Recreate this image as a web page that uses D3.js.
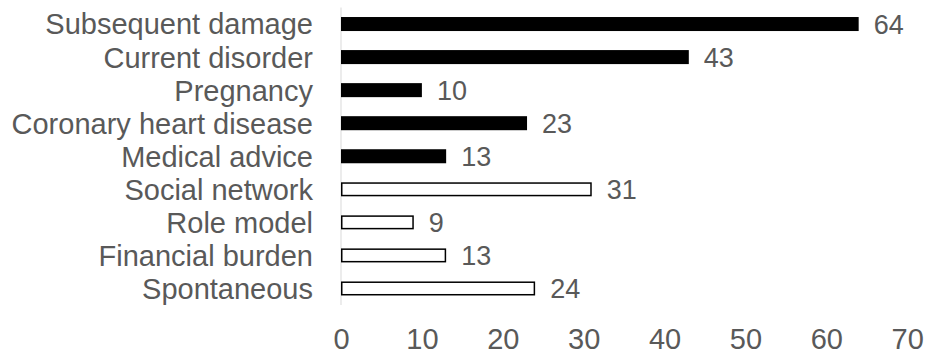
<!DOCTYPE html>
<html>
<head>
<meta charset="utf-8">
<script src="https://cdn.jsdelivr.net/npm/d3@7"></script>
<style>
  html, body { margin: 0; padding: 0; background: #fff; }
  svg { display: block; font-family: "Liberation Sans", Arial, sans-serif; }
</style>
</head>
<body>
<svg id="chart" width="926" height="354"></svg>
<script>
// Reasons, top to bottom
const categories = [
  "Subsequent damage",
  "Current disorder",
  "Pregnancy",
  "Coronary heart disease",
  "Medical advice",
  "Social network",
  "Role model",
  "Financial burden",
  "Spontaneous"
];
const values = [64, 43, 10, 23, 13, 31, 9, 13, 24];
// true = solid bar, false = outlined bar
const filled = [true, true, true, true, true, false, false, false, false];
const xTicks = [0, 10, 20, 30, 40, 50, 60, 70];

const svg = d3.select("#chart");
const textColor = "#595959";

const x = d3.scaleLinear().domain([0, 70]).range([341, 907.2]);
const y = d3.scaleBand()
  .domain(categories)
  .range([7.5, 305])
  .paddingInner(0.576)
  .paddingOuter(0.288);

// Vertical baseline
svg.append("line")
  .attr("x1", x(0)).attr("x2", x(0))
  .attr("y1", y.range()[0]).attr("y2", y.range()[1])
  .attr("stroke", "#d9d9d9")
  .attr("stroke-width", 1);

const rows = categories.map((c, i) => ({ c, v: values[i], f: filled[i] }));

// Bars
svg.append("g").selectAll("rect")
  .data(rows)
  .join("rect")
  .attr("x", d => x(0) + (d.f ? 0 : 0.75))
  .attr("y", d => y(d.c) + (d.f ? 0 : 0.75))
  .attr("width", d => x(d.v) - x(0) - (d.f ? 0 : 1.5))
  .attr("height", d => y.bandwidth() - (d.f ? 0 : 1.5))
  .attr("fill", d => d.f ? "#000" : "#fff")
  .attr("stroke", d => d.f ? "none" : "#000")
  .attr("stroke-width", 1.5);

// Value labels
svg.append("g").selectAll("text")
  .data(rows)
  .join("text")
  .attr("x", d => x(d.v) + 15)
  .attr("y", d => y(d.c) + y.bandwidth() / 2)
  .attr("dy", "0.36em")
  .attr("fill", textColor)
  .attr("font-size", 27)
  .text(d => d.v);

// Category axis
const yAxis = d3.axisLeft(y).tickSize(0).tickPadding(28);
const gy = svg.append("g").attr("transform", `translate(${x(0)},0)`).call(yAxis);
gy.select(".domain").remove();
gy.selectAll("text")
  .attr("fill", textColor)
  .attr("font-size", 29)
  .attr("font-family", "Liberation Sans, Arial, sans-serif")
  .attr("dy", "0.36em");

// Value axis
const xAxis = d3.axisBottom(x).tickValues(xTicks).tickSize(0).tickPadding(0);
const gx = svg.append("g").attr("transform", "translate(0,339)").call(xAxis);
gx.select(".domain").remove();
gx.selectAll("text")
  .attr("fill", textColor)
  .attr("font-size", 29)
  .attr("font-family", "Liberation Sans, Arial, sans-serif")
  .attr("y", 0)
  .attr("dy", "0.36em");
</script>
</body>
</html>
